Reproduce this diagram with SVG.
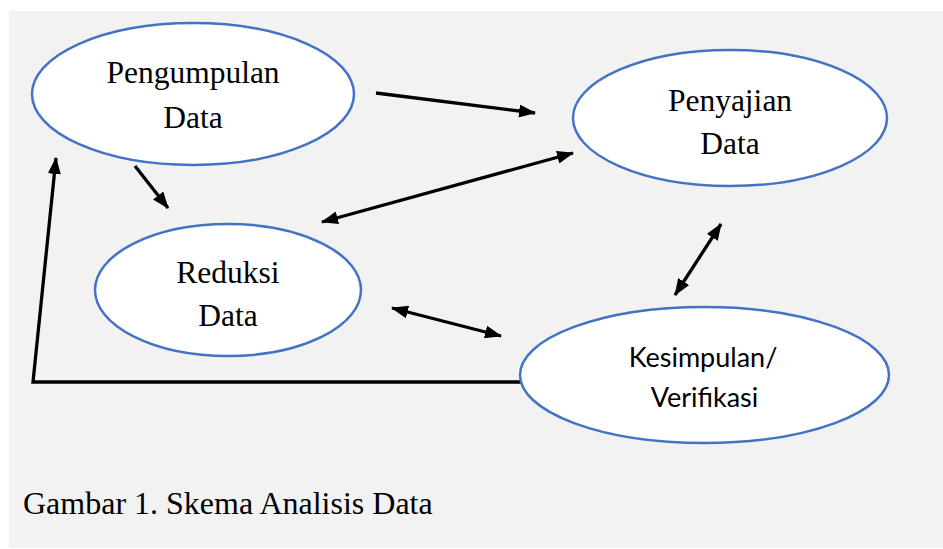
<svg xmlns="http://www.w3.org/2000/svg" width="943" height="549" viewBox="0 0 943 549">
<style>
.node{fill:#ffffff;stroke:#4472C4;stroke-width:2.5}
.lbl{fill:#000;text-anchor:middle}
.conn{stroke:#000;stroke-width:3.3;fill:none}
</style>
<defs>
<marker id="ah" markerUnits="userSpaceOnUse" markerWidth="17" markerHeight="13" refX="16" refY="6.5" orient="auto-start-reverse" viewBox="0 0 17 13">
<path d="M0,0 L17,6.5 L0,13 z" fill="#000"/>
</marker>
</defs>
<rect x="9" y="11" width="934" height="537" fill="#f2f2f2"/>
<g id="connectors">
<line class="conn" x1="376" y1="93" x2="535" y2="113" marker-end="url(#ah)"/>
<line class="conn" x1="135" y1="166" x2="168" y2="208" marker-end="url(#ah)"/>
<line class="conn" x1="322" y1="222" x2="573" y2="153" marker-start="url(#ah)" marker-end="url(#ah)"/>
<line class="conn" x1="392" y1="308" x2="501" y2="336" marker-start="url(#ah)" marker-end="url(#ah)"/>
<line class="conn" x1="675" y1="295" x2="721" y2="224" marker-start="url(#ah)" marker-end="url(#ah)"/>
<polyline class="conn" points="521,382 33,382 56,158" marker-end="url(#ah)"/>
</g>
<g id="pengumpulan" font-family="Liberation Serif, Times New Roman, serif" font-size="31.5">
<ellipse class="node" cx="193" cy="94" rx="161" ry="71"/>
<text class="lbl" x="193" y="83">Pengumpulan</text>
<text class="lbl" x="193" y="128">Data</text>
</g>
<g id="penyajian" font-family="Liberation Serif, Times New Roman, serif" font-size="31.5">
<ellipse class="node" cx="730" cy="118" rx="157" ry="68"/>
<text class="lbl" x="730" y="111">Penyajian</text>
<text class="lbl" x="730" y="154">Data</text>
</g>
<g id="reduksi" font-family="Liberation Serif, Times New Roman, serif" font-size="31.5">
<ellipse class="node" cx="228" cy="290" rx="133" ry="66"/>
<text class="lbl" x="228" y="283">Reduksi</text>
<text class="lbl" x="228" y="326">Data</text>
</g>
<g id="kesimpulan" font-family="Lato, Open Sans, sans-serif" font-size="27">
<ellipse class="node" cx="704.5" cy="375" rx="184.5" ry="68"/>
<text class="lbl" x="703" y="367">Kesimpulan/</text>
<text class="lbl" x="704.5" y="407">Verifikasi</text>
</g>
<text x="23" y="514" font-family="Liberation Serif, Times New Roman, serif" font-size="32" fill="#000">Gambar 1. Skema Analisis Data</text>
</svg>
